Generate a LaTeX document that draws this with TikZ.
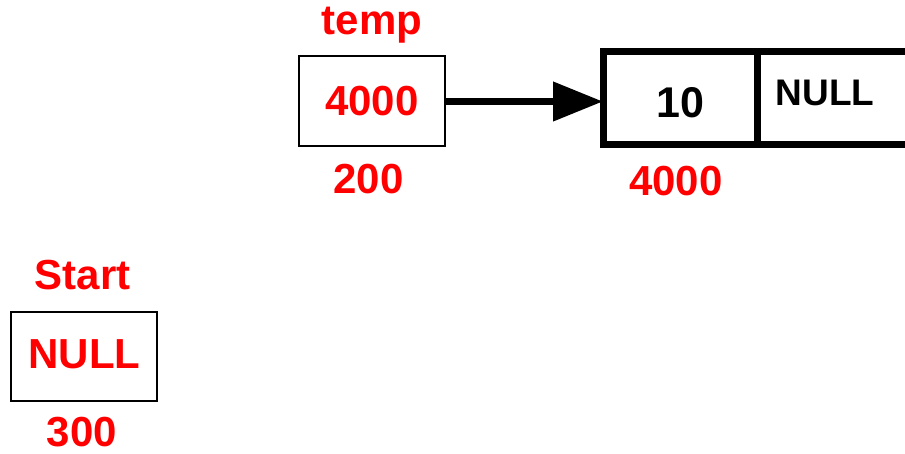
\documentclass[tikz,border=0pt]{standalone}
\usepackage{fontspec}
\setmainfont{Liberation Sans}
\usetikzlibrary{arrows.meta}
\tikzset{
  lbl/.style={anchor=base, inner sep=0pt, text=red, font=\bfseries\fontsize{42}{42}\selectfont},
  blk/.style={anchor=base, inner sep=0pt, text=black, font=\bfseries\fontsize{43}{43}\selectfont},
  blksmall/.style={anchor=base, inner sep=0pt, text=black, font=\bfseries\fontsize{37}{37}\selectfont},
  thinbox/.style={draw=black, line width=2pt},
  thickbox/.style={draw=black, line width=7pt},
  ptr/.style={line width=7.5pt, -{Triangle[length=50pt, width=38pt]}}
}
\begin{document}
\begin{tikzpicture}[x=1pt,y=-1pt]
\useasboundingbox (0,0) rectangle (905,454);
% temp box
\draw[thinbox] (299,56) rectangle (445,146);
\coordinate (tempR) at (445,101.5);
\node[lbl] (tempname) at (372,34.5) {temp};
\node[lbl] (tempval) at (372,116) {4000};
\node[lbl] (tempaddr) at (368.5,193.5) {200};
% list node
\draw[thickbox] (603,51.5) rectangle (915,145);
\draw[thickbox] (757,51.5) -- (757,145);
\coordinate (nodeL) at (603,101.5);
\node[blk] (data) at (680,117.5) {10};
\node[blksmall] (next) at (825,106) {NULL};
\node[lbl] (nodeaddr) at (676,195.5) {4000};
% arrow
\draw[ptr] (tempR) -- (nodeL);
% start box
\draw[thinbox] (11,312.5) rectangle (157,401);
\node[lbl] (startname) at (82.5,289.5) {Start};
\node[lbl] (startval) at (84.5,368.5) {NULL};
\node[lbl] (startaddr) at (82,446.5) {300};
\end{tikzpicture}
\end{document}
